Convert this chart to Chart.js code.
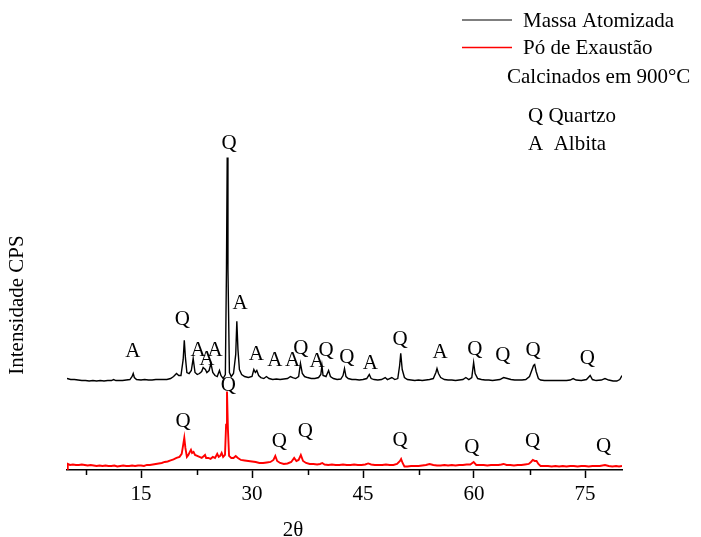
<!DOCTYPE html>
<html>
<head>
<meta charset="utf-8">
<script src="https://cdn.jsdelivr.net/npm/chart.js@4.4.1/dist/chart.umd.min.js"></script>
<style>
  html, body { margin: 0; padding: 0; background: #fff; }
  #wrap { width: 701px; height: 537px; }
</style>
</head>
<body>
<div id="wrap"><canvas id="drx"></canvas></div>
<script>
const massaAtomizada = [
  [5.0, 91], [5.5, 90], [6.0, 90], [6.5, 89.5], [7.0, 89], [7.5, 89], [8.0, 88.5], [8.5, 89],
  [9.0, 88.5], [9.5, 89], [10.0, 88.5], [10.5, 89], [11.0, 89], [11.3, 90], [11.6, 89], [12.0, 89],
  [12.5, 89], [13.0, 89.5], [13.5, 90], [13.8, 93], [13.95, 96], [14.1, 92], [14.4, 90], [15.0, 89.5],
  [15.5, 90], [16.0, 89.5], [16.5, 89.5], [17.0, 90], [17.5, 90], [18.0, 90], [18.5, 90], [19.0, 91],
  [19.4, 93], [19.8, 96], [20.1, 94], [20.4, 94], [20.7, 110], [20.85, 129], [21.0, 112], [21.2, 97],
  [21.5, 96], [21.8, 99], [22.05, 111], [22.3, 97], [22.6, 95], [22.9, 96], [23.2, 98], [23.4, 102],
  [23.55, 101], [23.7, 100], [23.9, 97], [24.2, 99], [24.45, 106], [24.7, 97], [25.0, 94], [25.3, 93],
  [25.6, 99], [25.8, 94], [26.1, 91], [26.4, 95], [26.55, 200], [26.65, 311], [26.75, 200], [26.95, 97],
  [27.2, 93], [27.5, 96], [27.8, 115], [27.95, 148], [28.1, 120], [28.3, 100], [28.6, 95], [29.0, 93],
  [29.5, 92], [30.0, 93], [30.25, 100], [30.45, 97], [30.65, 99], [30.9, 94], [31.2, 92], [31.6, 91],
  [31.95, 93], [32.3, 91], [32.8, 90], [33.3, 90.5], [33.8, 90], [34.3, 90.5], [34.8, 91], [35.2, 93],
  [35.5, 92], [35.9, 91], [36.3, 93], [36.55, 106], [36.8, 96], [37.1, 93], [37.5, 92], [38.0, 91],
  [38.5, 91], [39.0, 92], [39.3, 95], [39.45, 104], [39.6, 94], [40.0, 93], [40.35, 99], [40.6, 93],
  [41.0, 91], [41.5, 90], [42.0, 90.5], [42.3, 94], [42.5, 101], [42.7, 93], [43.0, 91], [43.5, 90],
  [44.0, 90], [44.5, 89.5], [45.0, 90], [45.5, 91], [45.85, 95], [46.1, 91], [46.5, 90], [47.0, 89.5],
  [47.5, 90], [48.0, 92], [48.3, 90], [48.9, 92], [49.3, 90], [49.7, 91], [49.95, 104], [50.1, 116],
  [50.3, 100], [50.6, 92], [51.0, 90], [51.5, 89.5], [52.0, 89], [52.5, 89.5], [53.0, 89], [53.5, 89.5],
  [54.0, 90], [54.5, 91], [54.85, 97], [55.0, 101], [55.2, 96], [55.5, 92], [56.0, 90], [56.5, 89.5],
  [57.0, 89.5], [57.5, 89], [58.0, 89.5], [58.5, 90], [58.9, 92], [59.3, 90], [59.7, 92], [59.95, 107],
  [60.15, 96], [60.5, 91], [61.0, 90], [61.5, 89.5], [62.0, 89.5], [62.5, 89], [63.0, 89.5], [63.5, 90],
  [64.0, 92], [64.5, 91], [65.0, 90], [65.5, 89.5], [66.0, 89.5], [66.5, 89.5], [67.0, 90], [67.5, 93],
  [67.85, 100], [68.05, 104], [68.2, 105], [68.4, 98], [68.7, 91], [69.0, 89.5], [69.5, 89], [70.0, 89],
  [70.5, 89], [71.0, 89], [71.5, 89], [72.0, 89], [72.5, 89], [73.0, 89.5], [73.4, 91], [73.8, 89.5],
  [74.5, 89], [75.2, 90], [75.7, 94], [76.0, 90], [76.5, 89], [77.2, 89.5], [77.7, 91], [78.2, 89.5],
  [78.8, 88.5], [79.3, 88.5], [79.7, 90], [80.0, 94]
];

const poExaustao = [
  [5.0, 1], [5.1, 6], [5.4, 5], [5.8, 5.5], [6.2, 5], [6.6, 5], [7.0, 5.5], [7.4, 5],
  [7.8, 4.5], [8.2, 5], [8.6, 4.5], [9.0, 4], [9.4, 4.5], [9.8, 4], [10.2, 4.5], [10.6, 4],
  [11.0, 4], [11.4, 4.5], [11.8, 3.5], [12.2, 4], [12.6, 4.5], [13.0, 4], [13.4, 4], [13.8, 4.5],
  [14.2, 4], [14.6, 4.5], [15.0, 4.5], [15.4, 4], [15.8, 5], [16.2, 5], [16.6, 5.5], [17.0, 6],
  [17.4, 6.5], [17.8, 7], [18.2, 8], [18.6, 8.5], [19.0, 9.5], [19.4, 10.5], [19.8, 12], [20.2, 13],
  [20.5, 16], [20.7, 25], [20.85, 32], [21.0, 22], [21.2, 13], [21.4, 15], [21.6, 18], [21.75, 20],
  [21.9, 17], [22.1, 18], [22.3, 15], [22.6, 14], [22.9, 13], [23.2, 12], [23.5, 14], [23.65, 15],
  [23.8, 12], [24.1, 12], [24.4, 11], [24.7, 13], [25.0, 12], [25.3, 16], [25.5, 13], [25.7, 14],
  [25.9, 17], [26.1, 13], [26.35, 15], [26.5, 45], [26.62, 78], [26.75, 40], [26.9, 14], [27.2, 12],
  [27.5, 12], [27.8, 14], [28.1, 12], [28.5, 10], [29.0, 9.5], [29.5, 9], [30.0, 8.5], [30.5, 8],
  [31.0, 7], [31.5, 7], [32.0, 7.5], [32.5, 8], [32.9, 10], [33.15, 14], [33.4, 9], [33.8, 7],
  [34.3, 6], [34.8, 6.5], [35.3, 8], [35.7, 12], [36.0, 9], [36.3, 10], [36.6, 15], [36.9, 9],
  [37.3, 7], [37.8, 6], [38.3, 6], [38.8, 5.5], [39.2, 6], [39.5, 7], [39.8, 5.5], [40.3, 5],
  [40.8, 5.5], [41.3, 5], [41.8, 5], [42.3, 5.5], [42.8, 5], [43.3, 5], [43.8, 5.5], [44.3, 5],
  [44.8, 5], [45.3, 5.5], [45.7, 6.5], [46.1, 5.5], [46.6, 5], [47.1, 5], [47.6, 5], [48.1, 5.5],
  [48.6, 5], [49.1, 5], [49.6, 6], [50.0, 9], [50.15, 11], [50.35, 7], [50.6, 3.5], [51.0, 3.5],
  [51.5, 4], [52.0, 4], [52.5, 4], [53.0, 4.5], [53.5, 5], [54.0, 6], [54.5, 5], [55.0, 4.5],
  [55.5, 4.5], [56.0, 5], [56.5, 4.5], [57.0, 5], [57.5, 4.5], [58.0, 5], [58.5, 5], [59.0, 5.5],
  [59.5, 5.5], [59.95, 8], [60.3, 5], [60.8, 5], [61.3, 5], [61.8, 4.5], [62.3, 5], [62.8, 5],
  [63.3, 5], [63.7, 5.5], [64.0, 6], [64.4, 5], [64.9, 5], [65.4, 4.5], [65.9, 5], [66.4, 5],
  [66.9, 5.5], [67.4, 6], [67.7, 8], [67.95, 10], [68.2, 9], [68.45, 9], [68.7, 6], [69.0, 4],
  [69.5, 4], [70.0, 4], [70.5, 3.5], [71.0, 4], [71.5, 3.5], [72.0, 4], [72.5, 3.5], [73.0, 4],
  [73.5, 4], [74.0, 3.5], [74.5, 4], [75.0, 4], [75.5, 3.5], [76.0, 4], [76.5, 4], [77.0, 4],
  [77.7, 5], [78.2, 4], [78.7, 3.5], [79.2, 4], [79.6, 3.5], [80.0, 4]
];

// identificação das fases: letra, 2θ, altura
const faseLetras = ['A', 'Q', 'A', 'A', 'A', 'Q', 'A', 'A', 'A', 'A', 'Q', 'A', 'Q', 'Q', 'A', 'Q', 'A', 'Q', 'Q', 'Q', 'Q',
                    'Q', 'Q', 'Q', 'Q', 'Q', 'Q', 'Q', 'Q'];
const faseX = [13.9, 20.6, 22.7, 23.9, 25.0, 26.9, 28.4, 30.6, 33.1, 35.5, 36.6, 38.8, 40.0, 42.8, 46.0, 50.0, 55.4, 60.1, 63.9, 68.0, 75.3,
               20.7, 26.8, 33.7, 37.2, 50.0, 59.7, 67.9, 77.5];
const faseY = [119, 151, 120, 111, 120, 326, 167, 116, 110, 110, 122, 109, 120, 113, 107, 131, 118, 121, 115, 120, 112,
               50, 86, 30, 40, 31, 24, 30, 25];

const ticksMaiores = [15, 30, 45, 60, 75];
const ticksMenores = [7.5, 22.5, 37.5, 52.5, 67.5];

const serif = '"Liberation Serif", "Times New Roman", serif';

const textos = {
  id: 'textos',
  afterDraw(chart) {
    const ctx = chart.ctx;
    const x = chart.scales.x;
    const y = chart.scales.y;
    ctx.save();

    // ticks menores do eixo 2θ
    ctx.strokeStyle = '#000';
    ctx.lineWidth = 1.5;
    ticksMenores.forEach(v => {
      const px = Math.round(x.getPixelForValue(v)) + 0.5;
      ctx.beginPath();
      ctx.moveTo(px, chart.chartArea.bottom);
      ctx.lineTo(px, chart.chartArea.bottom + 5);
      ctx.stroke();
    });

    // letras das fases
    ctx.fillStyle = '#000';
    ctx.font = '21px ' + serif;
    ctx.textAlign = 'center';
    ctx.textBaseline = 'alphabetic';
    faseLetras.forEach((l, i) => {
      ctx.fillText(l, x.getPixelForValue(faseX[i]), y.getPixelForValue(faseY[i]) + 7);
    });

    // legenda
    ctx.lineWidth = 1.5;
    ctx.strokeStyle = '#555';
    ctx.beginPath(); ctx.moveTo(462, 20); ctx.lineTo(512, 20); ctx.stroke();
    ctx.strokeStyle = '#ff0000';
    ctx.beginPath(); ctx.moveTo(462, 47.5); ctx.lineTo(512, 47.5); ctx.stroke();
    ctx.textAlign = 'left';
    ctx.fillText('Massa Atomizada', 523, 27);
    ctx.fillText('Pó de Exaustão', 523, 54);
    ctx.fillText('Calcinados em 900°C', 507, 83);
    ctx.fillText('Q Quartzo', 528, 122);
    ctx.fillText('A  Albita', 528, 150);

    // títulos dos eixos
    ctx.textAlign = 'center';
    ctx.fillText('2θ', 293, 536);
    ctx.translate(23, 305);
    ctx.rotate(-Math.PI / 2);
    ctx.fillText('Intensidade CPS', 0, 0);
    ctx.restore();
  }
};

new Chart(document.getElementById('drx'), {
  type: 'line',
  data: {
    datasets: [
      {
        label: 'Massa Atomizada',
        data: massaAtomizada.map(p => ({ x: p[0], y: p[1] })),
        borderColor: '#000',
        borderWidth: 1.4,
        pointRadius: 0,
        tension: 0
      },
      {
        label: 'Pó de Exaustão',
        data: poExaustao.map(p => ({ x: p[0], y: p[1] })),
        borderColor: '#ff0000',
        borderWidth: 1.9,
        pointRadius: 0,
        tension: 0
      }
    ]
  },
  options: {
    responsive: true,
    maintainAspectRatio: false,
    animation: false,
    layout: { padding: { left: 67, right: 79, top: 68, bottom: 25.8 } },
    plugins: { legend: { display: false }, tooltip: { enabled: false } },
    scales: {
      x: {
        type: 'linear',
        min: 5,
        max: 80,
        afterBuildTicks: s => { s.ticks = ticksMaiores.map(v => ({ value: v })); },
        grid: { drawOnChartArea: false, drawTicks: true, tickLength: 8, tickWidth: 1.5, tickColor: '#000' },
        border: { display: true, color: '#000', width: 1.5 },
        ticks: { color: '#000', padding: 4, maxRotation: 0, font: { family: serif, size: 21 } }
      },
      y: {
        display: false,
        min: 0,
        max: 400
      }
    }
  },
  plugins: [textos]
});
</script>
</body>
</html>
